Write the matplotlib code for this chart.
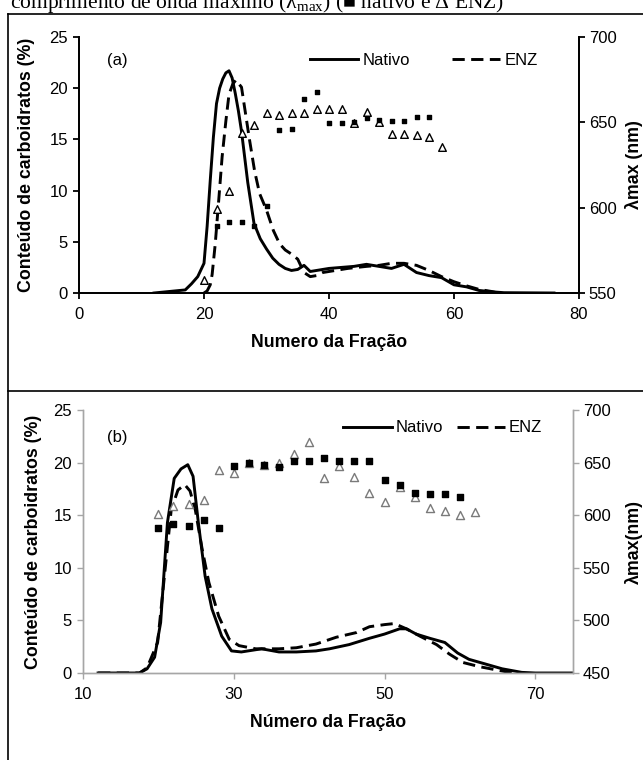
import matplotlib
matplotlib.use("Agg")
import matplotlib.pyplot as plt
from matplotlib.lines import Line2D

# ---------------- data ----------------
# Panel (a): carbohydrate content (%) vs fraction number
xa_nat = [12, 17, 18, 19, 20, 20.5, 21, 21.5, 22, 22.5, 23, 23.5, 24, 24.5, 25, 25.5, 26, 27, 28, 29, 30,
          31, 32, 33, 34, 35, 36, 37, 38, 40, 42, 44, 46, 48, 50, 52, 54, 56, 58, 60, 62, 64, 66, 68, 76]
ya_nat = [0, 0.3, 0.9, 1.6, 2.9, 6.5, 11, 15.2, 18.5, 20, 20.9, 21.5, 21.7, 21, 19.5, 17.8, 15.8, 10.8, 6.8, 5.3, 4.3,
          3.4, 2.8, 2.4, 2.2, 2.3, 2.7, 2.1, 2.2, 2.4, 2.5, 2.6, 2.8, 2.6, 2.4, 2.8, 2.0, 1.7, 1.5, 0.8, 0.6, 0.25, 0.12, 0.03, 0]
xa_enz = [20, 20.5, 21, 21.3, 21.8, 22.4, 22.9, 23.5, 24, 24.6, 25.1, 26, 26.5, 27.3, 28.1, 28.9, 30, 31.1, 32.1,
          33, 34, 35, 36, 37, 38, 39, 41, 43, 46, 48, 50, 52, 54, 56, 58, 60, 62, 64, 66, 67]
ya_enz = [0, 0.2, 0.8, 1.8, 4.8, 9.4, 13.3, 16.8, 19.4, 20.4, 20.8, 20.1, 18.1, 14.9, 11.9, 9.7, 8.1, 6.1, 4.8,
          4.2, 3.8, 3.3, 2.0, 1.6, 1.7, 2.0, 2.2, 2.4, 2.6, 2.7, 2.9, 2.9, 2.7, 2.2, 1.6, 1.1, 0.7, 0.35, 0.15, 0]
# Panel (a): lambda max (nm)
xa_sq = [22, 24, 26, 28, 30, 32, 34, 36, 38, 40, 42, 44, 46, 48, 50, 52, 54, 56]
ya_sq = [589, 591.5, 591.5, 589, 601, 645.5, 646, 663.5, 667.5, 649.5, 649.5, 650, 652.5, 651.5, 651, 651, 653, 653]
xa_tri = [20, 22, 24, 26, 28, 30, 32, 34, 36, 38, 40, 42, 44, 46, 48, 50, 52, 54, 56, 58]
ya_tri = [557.5, 599.5, 609.5, 643.5, 648.5, 655.5, 654.5, 655.5, 655.5, 658, 658, 658, 649.5, 656, 650,
          643, 643, 642.5, 641.5, 635.5]

# Panel (b)
xb_nat = [12, 16, 17.5, 18.5, 19.5, 20.3, 21.2, 22.1, 23, 23.9, 24.6, 25.3, 26.2, 27.1, 28.4, 29.7, 31, 33.7, 36,
          38.3, 40.9, 42.7, 45.3, 48, 50, 52, 52.9, 54.2, 56, 58, 59.7, 61.2, 63.4, 65.6, 68.2, 70, 75]
yb_nat = [0, 0, 0, 0.4, 1.5, 4.8, 14.3, 18.5, 19.4, 19.8, 18.7, 14.3, 9.2, 6.1, 3.5, 2.1, 2.0, 2.3, 2.0,
          2.0, 2.1, 2.3, 2.7, 3.3, 3.7, 4.2, 4.2, 3.7, 3.3, 2.9, 1.9, 1.3, 0.85, 0.4, 0.06, 0, 0]
xb_enz = [12, 16, 17.5, 18.5, 19.9, 20.8, 21.7, 22.6, 23.5, 24.2, 24.9, 25.8, 26.7, 28, 29.4, 30.7, 32.9, 36,
          38.3, 40.9, 43.6, 46.3, 48, 50, 51.3, 52.9, 54.7, 56.9, 58.6, 60.4, 62.6, 64.8, 66.6, 67.5]
yb_enz = [0, 0, 0, 0.5, 2.9, 9.2, 15.5, 17.4, 17.9, 17.3, 15.5, 11.8, 8.6, 5.4, 3.2, 2.6, 2.3, 2.3,
          2.4, 2.75, 3.4, 3.85, 4.4, 4.6, 4.7, 4.2, 3.5, 2.7, 1.8, 1.0, 0.6, 0.3, 0.05, 0]
xb_sq = [20, 22, 24, 26, 28, 30, 32, 34, 36, 38, 40, 42, 44, 46, 48, 50, 52, 54, 56, 58, 60]
yb_sq = [588, 591.5, 590, 595, 588, 647, 649.5, 647.5, 646, 651.5, 651.5, 654, 651.5, 651.5, 651.5,
         633.5, 629, 621.5, 620, 620, 617]
xb_tri = [20, 22, 24, 26, 28, 30, 32, 34, 36, 38, 40, 42, 44, 46, 48, 50, 52, 54, 56, 58, 60, 62]
yb_tri = [601, 609, 610.5, 614, 643, 640.5, 649.5, 647.5, 650, 658.5, 669.5, 635, 647, 636, 621.5,
          612.5, 627, 617, 606.5, 604, 600, 603]

left_ticks = [0, 5, 10, 15, 20, 25]
xa_ticks = [0, 20, 40, 60, 80]
xb_ticks = [10, 30, 50, 70]
ra_ticks = [550, 600, 650, 700]
rb_ticks = [450, 500, 550, 600, 650, 700]

# ---------------- style ----------------
plt.rcParams['font.family'] = ['Liberation Sans', 'DejaVu Sans']
plt.rcParams['mathtext.fontset'] = 'custom'
plt.rcParams['mathtext.rm'] = 'Liberation Serif'
plt.rcParams['mathtext.it'] = 'Liberation Serif:italic'

W, H = 643, 760
fig = plt.figure(figsize=(W / 100, H / 100), dpi=100)

def box(l, t, r, b):
    return [l / W, 1 - b / H, (r - l) / W, (b - t) / H]

TICK_FS = 12
LAB_FS = 12.8
DASH = (0, (4.2, 2.2))

def make_panel(px, xs_nat, ys_nat, xs_enz, ys_enz, xs_sq, ys_sq, xs_tri, ys_tri,
               xlim, xticks, rlim, rticks, xlabel, rlabel, tag, spine_col, tri_col,
               sq_ms, tri_ms, leg_x, leg_y, colsp, tag_xy, spine_lw, lab_left_px, lab_right_px):
    l, t, r, b = px
    ax = fig.add_axes(box(l, t, r, b))
    ax.plot(xs_nat, ys_nat, color='black', lw=2.1, solid_joinstyle='round', label='Nativo')
    ax.plot(xs_enz, ys_enz, color='black', lw=2.1, linestyle=DASH, label='ENZ')
    ax.set_xlim(*xlim)
    ax.set_ylim(0, 25)
    ax.set_xticks(xticks)
    ax.set_yticks(left_ticks)
    ax.spines['top'].set_visible(False)
    for s in ('left', 'bottom', 'right'):
        ax.spines[s].set_color(spine_col)
        ax.spines[s].set_linewidth(spine_lw)
    ax.tick_params(direction='out', length=4, width=spine_lw, color=spine_col,
                   labelsize=TICK_FS, labelcolor='black', pad=4)
    ax.tick_params(axis='x', pad=6)
    ax.set_xlabel(xlabel, fontsize=LAB_FS, fontweight='bold', labelpad=9)
    ax.set_ylabel('Conteúdo de carboidratos (%)', fontsize=LAB_FS, fontweight='bold')
    ax.yaxis.set_label_coords((lab_left_px - l) / (r - l), 0.5)
    ax.yaxis.label.set_va('center')
    ax.text(tag_xy[0], tag_xy[1], tag, transform=ax.transAxes, fontsize=TICK_FS,
            ha='center', va='center')
    ax.legend(loc='center left', bbox_to_anchor=(leg_x, leg_y), frameon=False, ncol=2,
              fontsize=TICK_FS, handlelength=2.9, handletextpad=0.25, columnspacing=colsp,
              borderpad=0, borderaxespad=0)

    ax2 = ax.twinx()
    ax2.scatter(xs_tri, ys_tri, marker='^', s=tri_ms ** 2, facecolors='white',
                edgecolors=tri_col, linewidths=1.0, zorder=3)
    ax2.scatter(xs_sq, ys_sq, marker='s', s=sq_ms ** 2, color='black', zorder=4)
    ax2.set_ylim(*rlim)
    ax2.set_yticks(rticks)
    ax2.set_xlim(*xlim)
    for s in ('left', 'bottom', 'right'):
        ax2.spines[s].set_color(spine_col)
        ax2.spines[s].set_linewidth(spine_lw)
    ax2.spines['top'].set_visible(False)
    ax2.tick_params(direction='out', length=4, width=spine_lw, color=spine_col,
                    labelsize=TICK_FS, labelcolor='black', pad=3)
    ax2.set_ylabel(rlabel, fontsize=LAB_FS, fontweight='bold')
    ax2.yaxis.set_label_coords((lab_right_px - l) / (r - l), 0.5)
    ax2.yaxis.label.set_va('center')
    return ax, ax2

axa, axa2 = make_panel((79, 37, 579, 293), xa_nat, ya_nat, xa_enz, ya_enz, xa_sq, ya_sq, xa_tri, ya_tri,
                       (0, 80), xa_ticks, (550, 700), ra_ticks, 'Numero da Fração', 'λmax (nm)', '(a)',
                       'black', 'black', 3.4, 5.5, 0.462, 0.91, 2.5, (0.076, 0.91), 1.3, 27, 634)
axb, axb2 = make_panel((83, 410, 573, 673), xb_nat, yb_nat, xb_enz, yb_enz, xb_sq, yb_sq, xb_tri, yb_tri,
                       (10, 75), xb_ticks, (450, 700), rb_ticks, 'Número da Fração', 'λmax(nm)', '(b)',
                       '#a6a6a6', '#7a7a7a', 3.9, 5.8, 0.531, 0.932, 0.8, (0.069, 0.897), 1.0, 34, 634)

# caption (cut off at the top edge, as in the source)
fig.text(10 / W, 1 - 8 / H, 'comprimento de onda máximo ($\\mathrm{λ_{max}}$) (■ nativo e Δ ENZ)',
         fontsize=15.5, family=['Liberation Serif', 'DejaVu Serif'], ha='left', va='baseline')

# table borders
fig.add_artist(Line2D([8 / W, 1], [1 - 14 / H, 1 - 14 / H], color='black', lw=1.2))
fig.add_artist(Line2D([8 / W, 8 / W], [0, 1 - 14 / H], color='black', lw=1.2))
fig.add_artist(Line2D([8 / W, 1], [1 - 391 / H, 1 - 391 / H], color='black', lw=1.2))

fig.savefig('out.png', dpi=100)
